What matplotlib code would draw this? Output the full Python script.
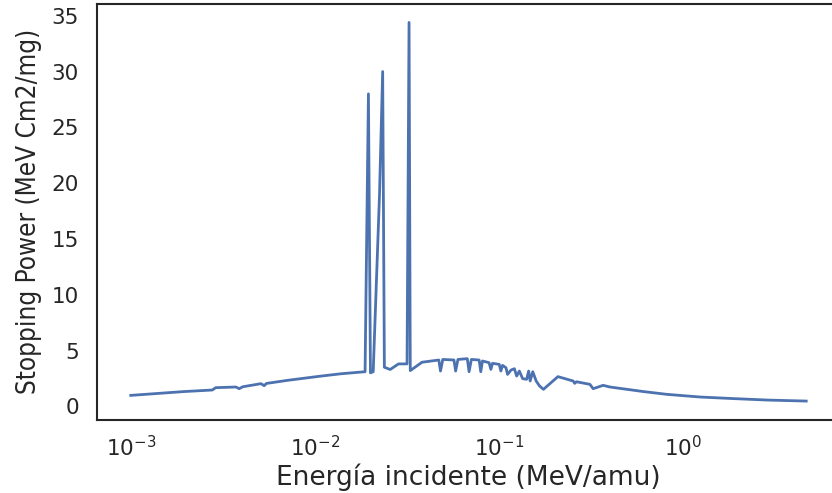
import numpy as np
import matplotlib
matplotlib.use("Agg")
import matplotlib.pyplot as plt

# energy (MeV/amu) and stopping power (MeV cm2/mg)
energia = [0.00100, 0.00194, 0.00277, 0.00289, 0.00372, 0.00388, 0.00405, 0.00509, 0.00530,
           0.00545, 0.00711, 0.0108, 0.0139, 0.0187,
           0.0195, 0.0200, 0.0207, 0.0224, 0.0233, 0.0238, 0.0256, 0.0284, 0.0316,
           0.0324, 0.0329, 0.0381, 0.0470,
           0.0480, 0.0494, 0.0568, 0.0580, 0.0597, 0.0671, 0.0686, 0.0706, 0.0778,
           0.0794, 0.0811, 0.0881, 0.0901, 0.0919, 0.1000, 0.1021, 0.1042, 0.1088,
           0.1110, 0.1159, 0.1208, 0.1244, 0.1286, 0.1340, 0.1409, 0.1445, 0.1472,
           0.1521, 0.1587, 0.1656, 0.1738,
           0.2083, 0.2518, 0.2570, 0.2625, 0.3105, 0.3236, 0.3666, 0.399, 0.607,
           0.815, 1.239, 1.875, 2.866, 4.64]
stopping = [0.98, 1.32, 1.46, 1.67, 1.73, 1.58, 1.75, 2.03, 1.85,
            2.05, 2.33, 2.71, 2.92, 3.10,
            28.0, 3.0, 3.1, 19.0, 30.0, 3.5, 3.3, 3.8, 3.8,
            34.4, 3.2, 3.95, 4.15,
            3.16, 4.2, 4.15, 3.16, 4.2, 4.27, 3.1, 4.2, 4.15,
            3.1, 4.06, 3.91, 3.31, 3.85, 3.76, 3.16, 3.67, 3.46,
            2.86, 3.25, 3.37, 2.71, 3.16, 2.48, 2.42, 3.16, 2.27,
            3.1, 2.27, 1.82, 1.52,
            2.66, 2.27, 2.06, 2.2, 1.97, 1.58, 1.88, 1.73, 1.32,
            1.07, 0.83, 0.69, 0.56, 0.47]

plt.rcParams['font.family'] = ['DejaVu Sans']
plt.rcParams['text.color'] = '.15'
plt.rcParams['axes.labelcolor'] = '.15'
plt.rcParams['xtick.color'] = '.15'
plt.rcParams['ytick.color'] = '.15'

fig = plt.figure(figsize=(8.32, 4.93), dpi=100)
ax = fig.add_axes([97/832, 73/493, 743/832, 416.5/493])

ax.plot(energia, stopping, color='#4c72b0', linewidth=2.0)
ax.set_xscale('log')

for s in ax.spines.values():
    s.set_color('.15')
    s.set_linewidth(1.5)

ax.tick_params(axis='both', which='both', length=0, labelsize=15.5)
ax.tick_params(axis='x', pad=11)
ax.tick_params(axis='y', pad=13)
ax.set_yticks([0, 5, 10, 15, 20, 25, 30, 35])

ax.set_xlabel("Energía incidente (MeV/amu)", fontsize=19, labelpad=2)
ax.set_ylabel("Stopping Power (MeV Cm2/mg)", fontsize=18.7, fontstretch='condensed', labelpad=7)

fig.savefig("out.png", dpi=100)
